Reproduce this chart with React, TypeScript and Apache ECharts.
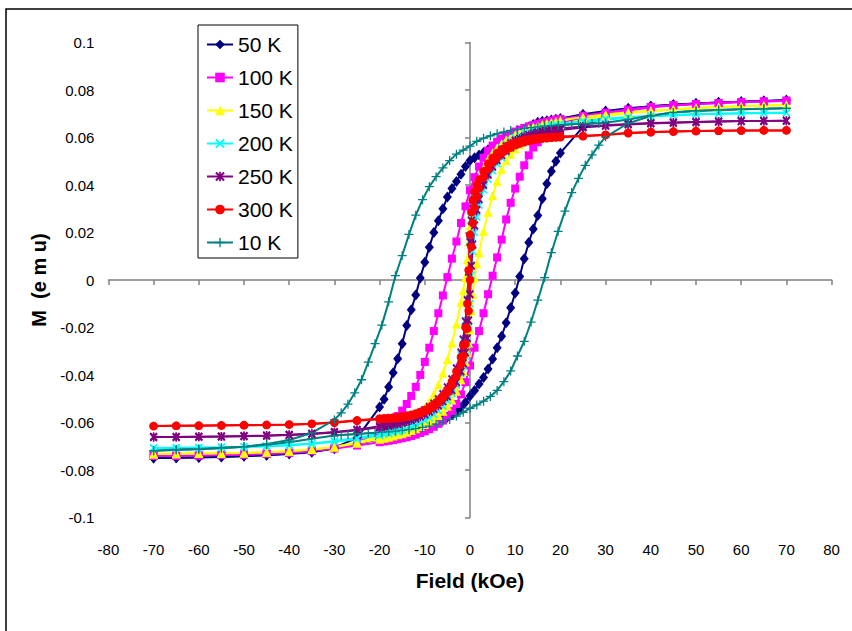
import React, { useEffect, useRef } from 'react';
import * as echarts from 'echarts';

const GRID_A = [70,65,60,55,50,45,40,35,30,25, 20,19,18,17,16,15,14,13,12,11, 10,9,8,7,6,5,4,3,2,1, 0,-1,-2,-3,-4,-5,-6,-7,-8,-9, -10,-11,-12,-13,-14,-15,-16,-17,-18,-19, -20,-25,-30,-35,-40,-45,-50,-55,-60,-65,-70];
const GRID_B = [70,65,60,55,50,45,40,35,30,25, 20,19,18,17,16,15,14,13,12,11, 10,9,8,7,6,5,4,3,2,1.5, 1,0.6,0.3,0,-0.3,-0.6,-1,-1.5,-2,-3, -4,-5,-6,-7,-8,-9,-10,-11,-12,-13, -14,-15,-16,-17,-18,-19,-20,-25,-30,-35, -40,-45,-50,-55,-60,-65,-70];
const GRID_C = [70,65,60,55,50,45,40,35, 30,28.5,27,25.5,24,22.5,21,19.5,18,16.5, 15,13.5,12,10.5,9,7.5,6,4.5,3,1.5, 0,-1.5,-3,-4.5,-6,-7.5,-9,-10.5,-12,-13.5, -15,-16.5,-18,-19.5,-21,-22.5,-24,-25.5,-27,-28.5, -30,-35,-40,-45,-50,-55,-60,-65,-70];

// 50 K
const M50_DOWN = [0.0757,0.0754,0.0751,0.0747,0.0743,0.0738,0.0732,0.0723,0.0712,0.0698,
 0.0680,0.0677,0.0674,0.0671,0.0668,0.0664,0.0655,0.0644,0.0633,0.0622,
 0.0611,0.0600,0.0589,0.0579,0.0569,0.0559,0.0548,0.0537,0.0526,0.0515,
 0.0503,0.0478,0.0445,0.0415,0.0385,0.0350,0.0300,0.0250,0.0200,0.0138,
 0.0075,0.0008,-0.0063,-0.0125,-0.0192,-0.0268,-0.0332,-0.0390,-0.0450,-0.0502,
 -0.0535,-0.0665,-0.0706,-0.0722,-0.0731,-0.0737,-0.0741,-0.0744,-0.0746,-0.0748,-0.0749];
const M50_UP = [0.0757,0.0754,0.0751,0.0747,0.0743,0.0738,0.0732,0.0718,0.0690,0.0645,
 0.0535,0.0500,0.0458,0.0405,0.0342,0.0272,0.0215,0.0158,0.0090,0.0015,
 -0.0055,-0.0117,-0.0180,-0.0237,-0.0285,-0.0333,-0.0375,-0.0410,-0.0438,-0.0465,
 -0.0488,-0.0515,-0.0537,-0.0552,-0.0565,-0.0577,-0.0587,-0.0598,-0.0608,-0.0617,
 -0.0625,-0.0632,-0.0639,-0.0645,-0.0650,-0.0655,-0.0658,-0.0662,-0.0665,-0.0668,
 -0.0671,-0.0690,-0.0710,-0.0725,-0.0733,-0.0738,-0.0742,-0.0745,-0.0747,-0.0748,-0.0749];

// 100 K
const M100_DOWN = [0.0755,0.0752,0.0749,0.0745,0.0741,0.0736,0.0729,0.0718,0.0705,0.0692,
 0.0678,0.0675,0.0671,0.0667,0.0663,0.0658,0.0653,0.0647,0.0640,0.0633,
 0.0625,0.0616,0.0606,0.0595,0.0582,0.0566,0.0545,0.0515,0.0478,0.0433,
 0.0378,0.0310,0.0240,0.0162,0.0090,0.0012,-0.0065,-0.0140,-0.0215,-0.0285,
 -0.0345,-0.0400,-0.0450,-0.0488,-0.0522,-0.0550,-0.0573,-0.0593,-0.0610,-0.0624,
 -0.0636,-0.0685,-0.0707,-0.0719,-0.0727,-0.0732,-0.0735,-0.0737,-0.0739,-0.0740,-0.0741];
const M100_UP = [0.0755,0.0752,0.0749,0.0745,0.0741,0.0735,0.0727,0.0713,0.0700,0.0683,
 0.0660,0.0648,0.0635,0.0620,0.0602,0.0580,0.0558,0.0525,0.0483,0.0435,
 0.0385,0.0325,0.0255,0.0170,0.0095,0.0018,-0.0060,-0.0140,-0.0215,-0.0285,
 -0.0360,-0.0430,-0.0482,-0.0522,-0.0552,-0.0574,-0.0592,-0.0606,-0.0618,-0.0628,
 -0.0637,-0.0644,-0.0651,-0.0657,-0.0662,-0.0666,-0.0670,-0.0674,-0.0677,-0.0680,
 -0.0683,-0.0697,-0.0710,-0.0720,-0.0728,-0.0732,-0.0735,-0.0737,-0.0739,-0.0740,-0.0741];

// 150 K
const M150_DOWN = [0.0737,0.0735,0.0732,0.0728,0.0724,0.0719,0.0713,0.0706,0.0697,0.0686,
 0.0672,0.0668,0.0664,0.0660,0.0655,0.0650,0.0644,0.0637,0.0630,0.0621,
 0.0612,0.0601,0.0589,0.0574,0.0557,0.0536,0.0508,0.0470,0.0420,0.0385,
 0.0345,0.0308,0.0275,0.0228,0.0160,0.0085,0.0010,-0.0045,-0.0095,-0.0185,
 -0.0265,-0.0335,-0.0392,-0.0440,-0.0480,-0.0512,-0.0538,-0.0560,-0.0578,-0.0594,
 -0.0607,-0.0619,-0.0629,-0.0638,-0.0646,-0.0653,-0.0659,-0.0684,-0.0702,-0.0713,
 -0.0720,-0.0725,-0.0728,-0.0730,-0.0731,-0.0732,-0.0733];
const M150_UP = [0.0737,0.0735,0.0732,0.0728,0.0724,0.0718,0.0711,0.0702,0.0691,0.0676,
 0.0655,0.0650,0.0644,0.0637,0.0629,0.0620,0.0610,0.0598,0.0585,0.0570,
 0.0552,0.0530,0.0503,0.0466,0.0415,0.0355,0.0285,0.0205,0.0115,0.0070,
 0.0010,-0.0060,-0.0130,-0.0210,-0.0265,-0.0305,-0.0345,-0.0385,-0.0420,-0.0468,
 -0.0505,-0.0532,-0.0553,-0.0570,-0.0585,-0.0597,-0.0608,-0.0617,-0.0626,-0.0634,
 -0.0641,-0.0647,-0.0652,-0.0657,-0.0662,-0.0666,-0.0670,-0.0687,-0.0704,-0.0714,
 -0.0721,-0.0725,-0.0728,-0.0730,-0.0731,-0.0732,-0.0733];

// 200 K
const M200_DOWN = [0.0704,0.0703,0.0702,0.0700,0.0698,0.0695,0.0691,0.0686,0.0679,0.0670,
 0.0658,0.0655,0.0652,0.0648,0.0644,0.0639,0.0633,0.0626,0.0618,0.0609,
 0.0599,0.0587,0.0573,0.0557,0.0533,0.0510,0.0480,0.0445,0.0400,0.0375,
 0.0342,0.0303,0.0255,0.0165,0.0040,-0.0080,-0.0170,-0.0255,-0.0315,-0.0385,
 -0.0430,-0.0465,-0.0494,-0.0518,-0.0538,-0.0555,-0.0569,-0.0581,-0.0592,-0.0602,
 -0.0611,-0.0619,-0.0626,-0.0632,-0.0638,-0.0643,-0.0647,-0.0665,-0.0678,-0.0688,
 -0.0695,-0.0699,-0.0702,-0.0704,-0.0705,-0.0706,-0.0707];
const M200_UP = [0.0704,0.0703,0.0702,0.0700,0.0698,0.0694,0.0689,0.0683,0.0675,0.0664,
 0.0648,0.0644,0.0639,0.0634,0.0628,0.0621,0.0613,0.0604,0.0594,0.0582,
 0.0569,0.0554,0.0536,0.0515,0.0490,0.0460,0.0424,0.0380,0.0315,0.0265,
 0.0200,0.0120,0.0020,-0.0100,-0.0200,-0.0265,-0.0320,-0.0362,-0.0395,-0.0442,
 -0.0478,-0.0507,-0.0530,-0.0550,-0.0566,-0.0580,-0.0592,-0.0602,-0.0611,-0.0619,
 -0.0626,-0.0632,-0.0638,-0.0643,-0.0647,-0.0651,-0.0655,-0.0670,-0.0681,-0.0690,
 -0.0696,-0.0700,-0.0703,-0.0705,-0.0706,-0.0707,-0.0707];

// 250 K
const M250_DOWN = [0.0671,0.0670,0.0669,0.0667,0.0665,0.0663,0.0661,0.0657,0.0652,0.0646,
 0.0638,0.0636,0.0633,0.0630,0.0626,0.0622,0.0617,0.0611,0.0604,0.0596,
 0.0587,0.0576,0.0563,0.0547,0.0528,0.0505,0.0477,0.0442,0.0400,0.0372,
 0.0338,0.0300,0.0250,0.0160,0.0035,-0.0085,-0.0175,-0.0250,-0.0305,-0.0372,
 -0.0418,-0.0452,-0.0480,-0.0502,-0.0520,-0.0535,-0.0548,-0.0559,-0.0569,-0.0577,
 -0.0585,-0.0592,-0.0598,-0.0603,-0.0608,-0.0612,-0.0616,-0.0630,-0.0640,-0.0647,
 -0.0652,-0.0655,-0.0657,-0.0659,-0.0660,-0.0661,-0.0661];
const M250_UP = [0.0671,0.0670,0.0669,0.0667,0.0665,0.0662,0.0659,0.0655,0.0649,0.0642,
 0.0632,0.0629,0.0626,0.0622,0.0618,0.0613,0.0607,0.0600,0.0592,0.0583,
 0.0572,0.0559,0.0544,0.0526,0.0504,0.0477,0.0443,0.0400,0.0340,0.0295,
 0.0230,0.0150,0.0060,-0.0060,-0.0170,-0.0245,-0.0305,-0.0350,-0.0385,-0.0430,
 -0.0464,-0.0490,-0.0511,-0.0528,-0.0543,-0.0555,-0.0566,-0.0575,-0.0583,-0.0590,
 -0.0596,-0.0601,-0.0606,-0.0610,-0.0614,-0.0617,-0.0620,-0.0633,-0.0642,-0.0648,
 -0.0653,-0.0656,-0.0658,-0.0659,-0.0660,-0.0661,-0.0661];

// 300 K
const M300_DOWN = [0.0630,0.0630,0.0629,0.0628,0.0627,0.0625,0.0623,0.0620,0.0612,0.0607,
 0.0604,0.0603,0.0602,0.0601,0.0600,0.0598,0.0596,0.0593,0.0589,0.0585,
 0.0579,0.0572,0.0562,0.0550,0.0535,0.0515,0.0490,0.0458,0.0423,0.0400,
 0.0372,0.0335,0.0285,0.0190,0.0040,-0.0100,-0.0200,-0.0275,-0.0325,-0.0385,
 -0.0428,-0.0462,-0.0488,-0.0508,-0.0524,-0.0537,-0.0547,-0.0555,-0.0562,-0.0567,
 -0.0571,-0.0574,-0.0577,-0.0579,-0.0581,-0.0582,-0.0583,-0.0591,-0.0599,-0.0605,
 -0.0608,-0.0610,-0.0611,-0.0612,-0.0613,-0.0614,-0.0615];
const M300_UP = [0.0630,0.0630,0.0629,0.0628,0.0627,0.0625,0.0622,0.0618,0.0610,0.0605,
 0.0601,0.0600,0.0599,0.0597,0.0595,0.0592,0.0589,0.0585,0.0580,0.0574,
 0.0567,0.0558,0.0547,0.0533,0.0516,0.0494,0.0467,0.0432,0.0385,0.0352,
 0.0305,0.0240,0.0140,0.0000,-0.0130,-0.0205,-0.0270,-0.0320,-0.0355,-0.0405,
 -0.0443,-0.0474,-0.0498,-0.0517,-0.0532,-0.0544,-0.0553,-0.0561,-0.0567,-0.0572,
 -0.0576,-0.0579,-0.0581,-0.0583,-0.0584,-0.0585,-0.0586,-0.0593,-0.0601,-0.0606,
 -0.0609,-0.0611,-0.0612,-0.0613,-0.0614,-0.0614,-0.0615];

// 10 K
const M10_DOWN = [0.0723,0.0721,0.0719,0.0716,0.0712,0.0705,0.0693,0.0676,
 0.0662,0.0660,0.0659,0.0658,0.0657,0.0656,0.0654,0.0652,0.0650,0.0648,
 0.0645,0.0642,0.0638,0.0634,0.0629,0.0623,0.0616,0.0607,0.0597,0.0584,
 0.0564,0.0547,0.0530,0.0503,0.0472,0.0435,0.0393,0.0338,0.0273,0.0192,
 0.0103,0.0018,-0.0092,-0.0190,-0.0268,-0.0346,-0.0420,-0.0475,-0.0523,-0.0559,
 -0.0589,-0.0644,-0.0674,-0.0690,-0.0702,-0.0706,-0.0712,-0.0714,-0.0719];
const M10_UP = [0.0723,0.0721,0.0719,0.0716,0.0713,0.0706,0.0690,0.0660,
 0.0603,0.0568,0.0527,0.0483,0.0428,0.0368,0.0290,0.0205,0.0115,0.0010,
 -0.0085,-0.0177,-0.0258,-0.0320,-0.0383,-0.0428,-0.0465,-0.0490,-0.0510,-0.0526,
 -0.0540,-0.0557,-0.0573,-0.0587,-0.0598,-0.0607,-0.0615,-0.0621,-0.0626,-0.0630,
 -0.0633,-0.0636,-0.0639,-0.0641,-0.0643,-0.0645,-0.0647,-0.0649,-0.0651,-0.0653,
 -0.0655,-0.0668,-0.0683,-0.0694,-0.0702,-0.0708,-0.0713,-0.0716,-0.0719];

const SERIES_NAMES = ['50 K', '100 K', '150 K', '200 K', '250 K', '300 K', '10 K'];
const Y_TICK_LABELS: Record<string, string> = {
  '-0.1': '-0.1', '-0.08': '-0.08', '-0.06': '-0.06', '-0.04': '-0.04', '-0.02': '-0.02',
  '0': '0', '0.02': '0.02', '0.04': '0.04', '0.06': '0.06', '0.08': '0.08', '0.1': '0.1',
};

const PLUS = 'path://M4.3,0L5.7,0L5.7,4.3L10,4.3L10,5.7L5.7,5.7L5.7,10L4.3,10L4.3,5.7L0,5.7L0,4.3L4.3,4.3Z';
const CROSS = 'path://M0,1.4L1.4,0L10,8.6L8.6,10Z M8.6,0L10,1.4L1.4,10L0,8.6Z';
const ASTER = 'path://M0,1.6L1.6,0L10,8.4L8.4,10Z M8.4,0L10,1.6L1.6,10L0,8.4Z M4.1,0L5.9,0L5.9,10L4.1,10Z';

const FONT = '"Liberation Sans", Arial, sans-serif';

const DEFS = [
  { name: SERIES_NAMES[0], grid: GRID_A, down: M50_DOWN, up: M50_UP, color: '#000080', symbol: 'diamond', size: [9, 11] },
  { name: SERIES_NAMES[1], grid: GRID_A, down: M100_DOWN, up: M100_UP, color: '#FF00FF', symbol: 'rect', size: [8, 8] },
  { name: SERIES_NAMES[2], grid: GRID_B, down: M150_DOWN, up: M150_UP, color: '#FFFF00', symbol: 'triangle', size: [9, 9] },
  { name: SERIES_NAMES[3], grid: GRID_B, down: M200_DOWN, up: M200_UP, color: '#00FFFF', symbol: CROSS, size: [8, 8] },
  { name: SERIES_NAMES[4], grid: GRID_B, down: M250_DOWN, up: M250_UP, color: '#800080', symbol: ASTER, size: [8, 9] },
  { name: SERIES_NAMES[5], grid: GRID_B, down: M300_DOWN, up: M300_UP, color: '#FF0000', symbol: 'circle', size: [8.5, 8.5] },
  { name: SERIES_NAMES[6], grid: GRID_C, down: M10_DOWN, up: M10_UP, color: '#008080', symbol: PLUS, size: [9, 9] },
];

function branch(grid: number[], m: number[], reverse: boolean) {
  const pts = grid.map((h, i) => [h, m[i]]);
  return reverse ? pts.slice().reverse() : pts;
}

export default function App() {
  const ref = useRef<HTMLDivElement>(null);
  useEffect(() => {
    if (!ref.current) return;
    const chart = echarts.init(ref.current, null, { renderer: 'svg' });
    const series: any[] = [];
    DEFS.forEach((d) => {
      [false, true].forEach((rev) => {
        series.push({
          type: 'line',
          name: d.name,
          xAxisIndex: 0,
          yAxisIndex: 0,
          data: branch(d.grid, rev ? d.up : d.down, rev),
          symbol: d.symbol,
          symbolSize: d.size,
          showSymbol: true,
          showAllSymbol: true,
          smooth: false,
          lineStyle: { color: d.color, width: 2 },
          itemStyle: { color: d.color, borderWidth: 0 },
          emphasis: { disabled: true },
          silent: true,
          clip: false,
        });
      });
    });
    const axisGray = '#808080';
    chart.setOption({
      animation: false,
      backgroundColor: '#ffffff',
      graphic: [
        { type: 'rect', shape: { x: 6, y: 9, width: 860, height: 640 }, style: { fill: 'none', stroke: '#000', lineWidth: 1.5 }, z: 100 },
      ],
      grid: { left: 108.4, right: 20.4, top: 42.5, bottom: 113.5, outerBoundsMode: 'none' },
      legend: {
        data: SERIES_NAMES,
        orient: 'vertical',
        left: 198,
        top: 25,
        padding: [9, 5, 5, 8],
        itemGap: 12,
        itemWidth: 26,
        itemHeight: 12,
        borderColor: '#000',
        borderWidth: 1,
        backgroundColor: '#fff',
        textStyle: { fontSize: 21, fontFamily: FONT, color: '#000', lineHeight: 20 },
      },
      xAxis: [
        {
          type: 'value', min: -80, max: 80, interval: 10,
          axisLine: { show: true, onZero: true, lineStyle: { color: axisGray, width: 1.5 } },
          axisTick: { show: true, length: 5, lineStyle: { color: axisGray, width: 1.5 } },
          axisLabel: { show: false },
          splitLine: { show: false },
        },
        {
          type: 'value', min: -80, max: 80, interval: 10, position: 'bottom',
          axisLine: { show: false, onZero: false },
          axisTick: { show: false },
          axisLabel: { show: true, margin: 24, fontSize: 15, color: '#000', fontFamily: FONT },
          splitLine: { show: false },
          name: 'Field (kOe)', nameLocation: 'middle', nameGap: 52,
          nameTextStyle: { fontWeight: 'bold', fontSize: 21, color: '#000', fontFamily: FONT },
        },
      ],
      yAxis: [
        {
          type: 'value', min: -0.1, max: 0.1, interval: 0.02,
          axisLine: { show: true, onZero: true, lineStyle: { color: axisGray, width: 1.5 } },
          axisTick: { show: true, length: 5, lineStyle: { color: axisGray, width: 1.5 } },
          axisLabel: { show: false },
          splitLine: { show: false },
        },
        {
          type: 'value', min: -0.1, max: 0.1, interval: 0.02, position: 'left',
          axisLine: { show: false, onZero: false },
          axisTick: { show: false },
          axisLabel: {
            show: true, margin: 14, fontSize: 15, color: '#000', fontFamily: FONT,
            formatter: (v: number) => Y_TICK_LABELS[String(Math.round(v * 100) / 100)] ?? String(v),
          },
          splitLine: { show: false },
          name: 'M  (e m u)', nameLocation: 'middle', nameGap: 55,
          nameTextStyle: { fontWeight: 'bold', fontSize: 20, color: '#000', fontFamily: FONT },
        },
      ],
      series,
    });
    return () => chart.dispose();
  }, []);
  return <div ref={ref} style={{ position: 'absolute', left: 0, top: 0, width: 852, height: 631 }} />;
}
